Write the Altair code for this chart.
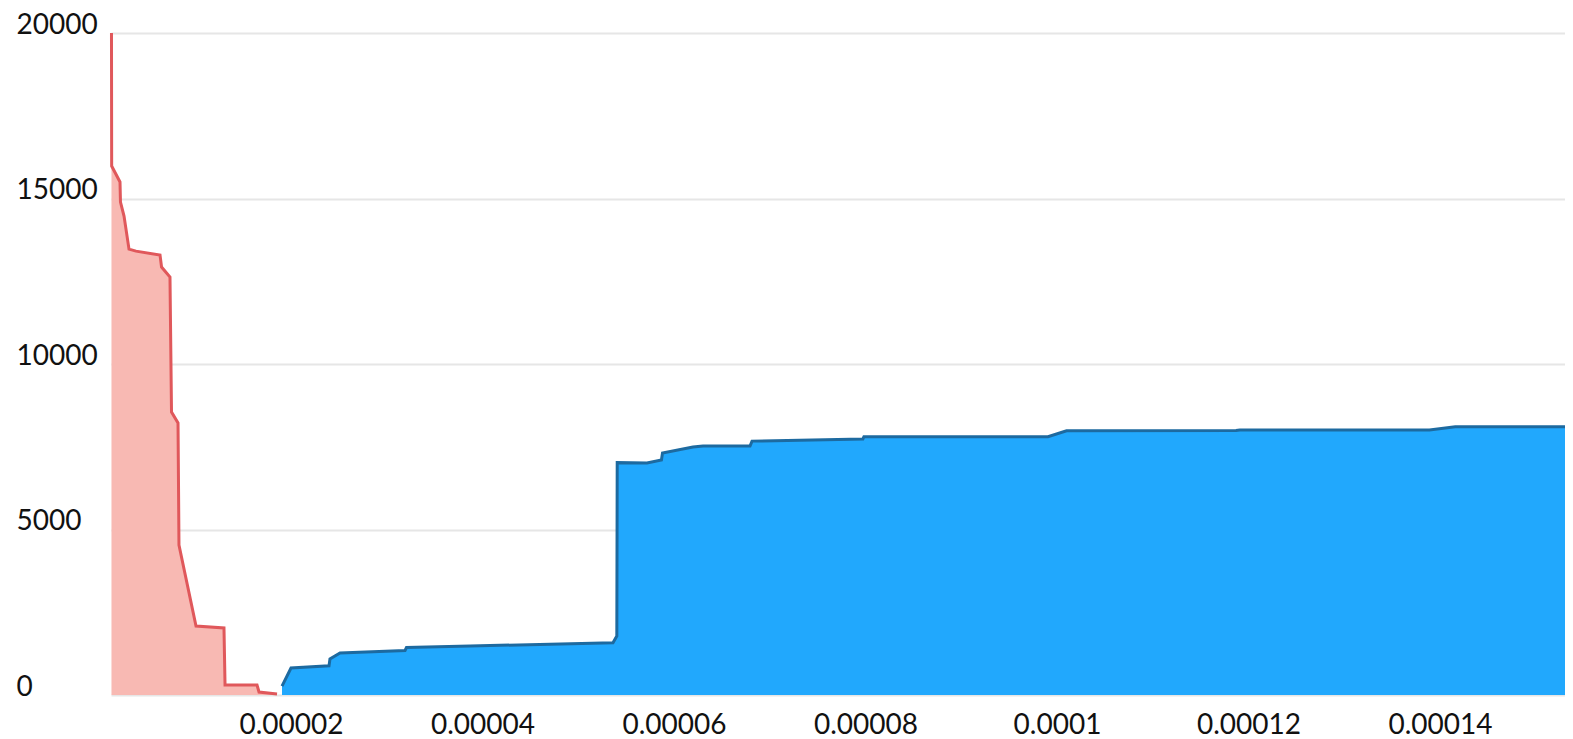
import altair as alt
import pandas as pd

# Red (pink) series
red_x = [1.25e-6, 1.27e-6, 2.14e-6, 2.19e-6, 2.56e-6, 3.08e-6, 3.81e-6, 6.32e-6, 6.48e-6,
         7.36e-6, 7.52e-6, 8.20e-6, 8.30e-6, 10.08e-6, 13.00e-6, 13.11e-6, 16.45e-6,
         16.66e-6, 18.54e-6]
red_y = [20000, 15980, 15500, 14890, 14470, 13470, 13410, 13290, 12930,
         12630, 8550, 8220, 4530, 2085, 2025, 300, 300, 90, 30]

# Blue series
blue_x = [19.06e-6, 20.0e-6, 23.97e-6, 24.07e-6, 25.12e-6, 31.91e-6, 32.06e-6, 38.7e-6,
          53.63e-6, 54.03e-6, 54.07e-6, 57.18e-6, 58.69e-6, 58.80e-6, 61.98e-6, 63.03e-6,
          67.94e-6, 68.15e-6, 79.73e-6, 79.84e-6, 99.06e-6, 101.0e-6, 118.7e-6, 119.1e-6,
          138.9e-6, 141.6e-6, 153.06e-6]
blue_y = [270, 815, 885, 1090, 1270, 1345, 1435, 1480,
          1580, 1780, 7020, 7010, 7100, 7310, 7490, 7520,
          7520, 7670, 7735, 7805, 7805, 7985, 7990, 8005,
          8005, 8105, 8105]

x_ticks = [0.00002, 0.00004, 0.00006, 0.00008, 0.0001, 0.00012, 0.00014]
y_ticks = [0, 5000, 10000, 15000, 20000]
x_domain = [1.2e-6, 1.5306e-4]
y_domain = [0, 20000]

red = pd.DataFrame({"x": red_x, "y": red_y})
blue = pd.DataFrame({"x": blue_x, "y": blue_y})

x_enc = alt.X(
    "x:Q",
    scale=alt.Scale(domain=x_domain, nice=False, zero=False),
    axis=alt.Axis(
        values=x_ticks, format=".6~f", title=None, grid=False, domain=False,
        ticks=False, tickSize=0, labelPadding=16, labelFlush=False,
        labelFont="Lato", labelFontSize=28, labelColor="#111111",
        labelOverlap=False,
    ),
)
y_enc = alt.Y(
    "y:Q",
    scale=alt.Scale(domain=y_domain, nice=False),
    axis=alt.Axis(
        values=y_ticks, format="d", title=None, grid=True, gridColor="#e6e6e6",
        gridWidth=2, domain=False, ticks=False, tickSize=0, labelPadding=95,
        labelAlign="left", labelBaseline="alphabetic",
        labelFont="Lato", labelFontSize=28, labelColor="#111111",
        labelOverlap=False, labelFlush=False,
    ),
)

red_area = alt.Chart(red).mark_area(
    color="#f8b9b3", opacity=1,
    line={"color": "#e0585b", "strokeWidth": 3},
).encode(x=x_enc, y=y_enc)

blue_area = alt.Chart(blue).mark_area(
    color="#21a8fd", opacity=1,
    line={"color": "#1d6aa0", "strokeWidth": 3},
).encode(x=x_enc, y=y_enc)

chart = alt.layer(red_area, blue_area).properties(
    width=1454, height=662,
    autosize=alt.AutoSizeParams(type="none"),
    padding={"left": 103, "top": 25, "right": 0, "bottom": 44},
).configure_view(stroke=None)

chart.save("out.html", embed_options={"renderer": "svg", "actions": False})
